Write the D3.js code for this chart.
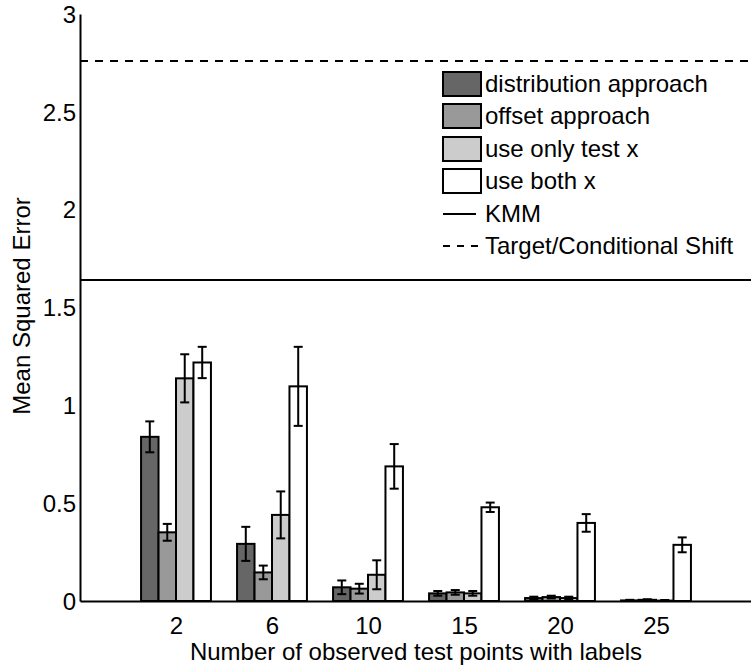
<!DOCTYPE html>
<html>
<head>
<meta charset="utf-8">
<script src="https://cdn.jsdelivr.net/npm/d3@7/dist/d3.min.js"></script>
<style>
  html, body { margin: 0; padding: 0; background: #fff; }
  svg { display: block; font-family: "Liberation Sans", Arial, Helvetica, sans-serif; }
</style>
</head>
<body>
<svg id="chart" width="751" height="665"></svg>
<script>
// Number of labelled test points (x categories)
const categories = ["2", "6", "10", "15", "20", "25"];

// Method names, in bar order within each group
const seriesNames = ["distribution approach", "offset approach", "use only test x", "use both x"];
const seriesColors = ["#666666", "#999999", "#cccccc", "#ffffff"];

// Mean squared error per method, one value per category
const distributionMSE = [0.839, 0.292, 0.070, 0.039, 0.015, 0.003];
const offsetMSE       = [0.351, 0.146, 0.063, 0.044, 0.020, 0.006];
const onlyTestMSE     = [1.138, 0.440, 0.134, 0.039, 0.015, 0.002];
const bothMSE         = [1.219, 1.097, 0.688, 0.479, 0.399, 0.287];

// Error-bar half widths
const distributionErr = [0.079, 0.087, 0.035, 0.012, 0.007, 0.003];
const offsetErr       = [0.043, 0.035, 0.025, 0.012, 0.007, 0.003];
const onlyTestErr     = [0.123, 0.120, 0.074, 0.012, 0.007, 0.003];
const bothErr         = [0.080, 0.202, 0.114, 0.024, 0.045, 0.038];

// Baseline methods drawn as horizontal reference lines
const kmmMSE = 1.64;
const targetShiftMSE = 2.76;

const yTicks = [0, 0.5, 1, 1.5, 2, 2.5, 3];

const values = [distributionMSE, offsetMSE, onlyTestMSE, bothMSE];
const errors = [distributionErr, offsetErr, onlyTestErr, bothErr];

const svg = d3.select("#chart");
const FONT = 24;

const x = d3.scaleLinear().domain([0, 7]).range([80, 752]);
const y = d3.scaleLinear().domain([0, 3]).range([601, 14]);

const barW = 0.182; // bar width in category units
const capHalf = 4.5;

// Reference lines
svg.append("line")
  .attr("x1", x(0)).attr("x2", x(7))
  .attr("y1", y(kmmMSE)).attr("y2", y(kmmMSE))
  .attr("stroke", "#000").attr("stroke-width", 2);
svg.append("line")
  .attr("x1", x(0)).attr("x2", x(7))
  .attr("y1", y(targetShiftMSE)).attr("y2", y(targetShiftMSE))
  .attr("stroke", "#000").attr("stroke-width", 2)
  .attr("stroke-dasharray", "8,7");

// Bars
const bars = [];
values.forEach((vals, s) => {
  vals.forEach((v, c) => {
    bars.push({ s, c, v, e: errors[s][c] });
  });
});

const barX = d => x(d.c + 1 + (d.s - 2) * barW);

svg.append("g").selectAll("rect")
  .data(bars)
  .join("rect")
  .attr("x", d => barX(d))
  .attr("y", d => y(d.v))
  .attr("width", x(barW) - x(0))
  .attr("height", d => y(0) - y(d.v))
  .attr("fill", d => seriesColors[d.s])
  .attr("stroke", "#000")
  .attr("stroke-width", 2);

// Error bars
const eg = svg.append("g").attr("stroke", "#000").attr("stroke-width", 2);
bars.forEach(d => {
  const cx = barX(d) + (x(barW) - x(0)) / 2;
  const y1 = y(d.v + d.e), y2 = y(Math.max(0, d.v - d.e));
  eg.append("line").attr("x1", cx).attr("x2", cx).attr("y1", y1).attr("y2", y2);
  eg.append("line").attr("x1", cx - capHalf).attr("x2", cx + capHalf).attr("y1", y1).attr("y2", y1);
  eg.append("line").attr("x1", cx - capHalf).attr("x2", cx + capHalf).attr("y1", y2).attr("y2", y2);
});

// Axes
const yAxis = d3.axisLeft(y).tickValues(yTicks).tickSize(0).tickPadding(4)
  .tickFormat(d => d3.format("")(d));
const gy = svg.append("g").attr("transform", `translate(${x(0)},0)`).call(yAxis);
gy.select(".domain").attr("stroke", "#000").attr("stroke-width", 2);
gy.selectAll("text").attr("font-size", FONT).attr("fill", "#000").attr("dy", "0.34em")
  .attr("font-family", "'Liberation Sans', Arial, sans-serif");

const xAxis = d3.axisBottom(x).tickValues(d3.range(1, categories.length + 1))
  .tickSize(0).tickPadding(16).tickFormat((d, i) => categories[i]);
const gx = svg.append("g").attr("transform", `translate(0,${y(0)})`).call(xAxis);
gx.select(".domain").attr("stroke", "#000").attr("stroke-width", 2);
gx.selectAll("text").attr("font-size", FONT).attr("fill", "#000")
  .attr("font-family", "'Liberation Sans', Arial, sans-serif");

// Axis titles
svg.append("text")
  .attr("x", 416).attr("y", 660)
  .attr("text-anchor", "middle")
  .attr("font-size", FONT)
  .text("Number of observed test points with labels");

svg.append("text")
  .attr("transform", "translate(30,306) rotate(-90)")
  .attr("text-anchor", "middle")
  .attr("font-size", FONT)
  .text("Mean Squared Error");

// Legend
const lg = svg.append("g");
const rowY = [84, 116, 149, 181, 214, 246];
seriesNames.forEach((name, i) => {
  lg.append("rect")
    .attr("x", 443).attr("y", rowY[i] - 12)
    .attr("width", 38).attr("height", 24)
    .attr("fill", seriesColors[i])
    .attr("stroke", "#000").attr("stroke-width", 2);
  lg.append("text")
    .attr("x", 485).attr("y", rowY[i])
    .attr("dy", "0.35em")
    .attr("font-size", FONT)
    .text(name);
});
lg.append("line")
  .attr("x1", 443).attr("x2", 476)
  .attr("y1", rowY[4]).attr("y2", rowY[4])
  .attr("stroke", "#000").attr("stroke-width", 2);
lg.append("text")
  .attr("x", 485).attr("y", rowY[4]).attr("dy", "0.35em")
  .attr("font-size", FONT).text("KMM");
lg.append("line")
  .attr("x1", 443).attr("x2", 480)
  .attr("y1", rowY[5]).attr("y2", rowY[5])
  .attr("stroke", "#000").attr("stroke-width", 2)
  .attr("stroke-dasharray", "7,7");
lg.append("text")
  .attr("x", 485).attr("y", rowY[5]).attr("dy", "0.35em")
  .attr("font-size", FONT).text("Target/Conditional Shift");
</script>
</body>
</html>
